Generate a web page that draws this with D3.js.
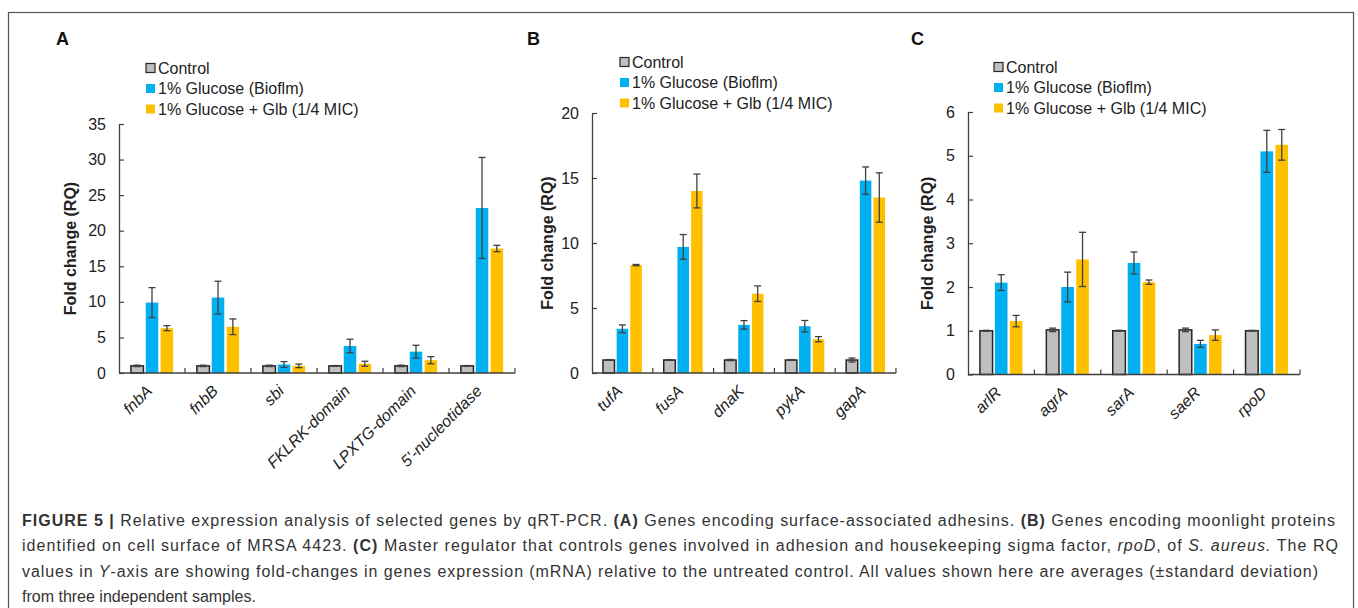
<!DOCTYPE html>
<html>
<head>
<meta charset="utf-8">
<script src="https://cdn.jsdelivr.net/npm/d3@7"></script>
<style>
  body { margin: 0; background: #fff; }
  svg text { font-family: "Liberation Sans", Arial, sans-serif; }
</style>
</head>
<body>
<svg id="fig" width="1358" height="608"></svg>
<script>
// series shared by the three panels
var seriesNames = ["Control", "1% Glucose (Bioflm)", "1% Glucose + Glb (1/4 MIC)"];
var seriesColors = ["#bfbfbf", "#00b0f0", "#ffc000"];

// panel A
var genesA = ["fnbA", "fnbB", "sbi", "FKLRK-domain", "LPXTG-domain", "5'-nucleotidase"];
var controlA = [1, 1, 1, 1, 1, 1];
var controlErrA = [0.1, 0.1, 0.1, 0.05, 0.1, 0.05];
var glucoseA = [9.9, 10.6, 1.2, 3.8, 3.0, 23.2];
var glucoseErrA = [2.1, 2.3, 0.4, 0.95, 0.9, 7.1];
var glbA = [6.3, 6.5, 1.0, 1.3, 1.8, 17.5];
var glbErrA = [0.35, 1.1, 0.25, 0.35, 0.5, 0.45];
var ticksA = [0, 5, 10, 15, 20, 25, 30, 35];

// panel B
var genesB = ["tufA", "fusA", "dnaK", "pykA", "gapA"];
var controlB = [1, 1, 1, 1, 1];
var controlErrB = [0.03, 0.03, 0.05, 0.03, 0.15];
var glucoseB = [3.4, 9.7, 3.7, 3.6, 14.8];
var glucoseErrB = [0.3, 0.95, 0.33, 0.44, 1.05];
var glbB = [8.3, 14.0, 6.1, 2.6, 13.5];
var glbErrB = [0.05, 1.3, 0.6, 0.2, 1.9];
var ticksB = [0, 5, 10, 15, 20];

// panel C
var genesC = ["arlR", "agrA", "sarA", "saeR", "rpoD"];
var controlC = [1.0, 1.02, 1.0, 1.02, 1.0];
var controlErrC = [0.01, 0.04, 0.01, 0.04, 0.01];
var glucoseC = [2.1, 2.0, 2.55, 0.7, 5.1];
var glucoseErrC = [0.18, 0.34, 0.25, 0.08, 0.48];
var glbC = [1.22, 2.63, 2.11, 0.9, 5.25];
var glbErrC = [0.13, 0.62, 0.05, 0.12, 0.35];
var ticksC = [0, 1, 2, 3, 4, 5, 6];

var svg = d3.select("#fig");

// figure frame (runs off the bottom of the picture)
svg.append("rect")
    .attr("x", 8.5).attr("y", 12.5)
    .attr("width", 1345).attr("height", 640)
    .attr("fill", "none").attr("stroke", "#555").attr("stroke-width", 1.2);

function drawPanel (o) {
    var g = svg.append("g");

    var x = d3.scaleBand().domain(o.genes).range([o.left, o.right]).paddingInner(0).paddingOuter(0);
    var step = x.bandwidth() * 0.225;
    var x1 = d3.scaleBand().domain(d3.range(3))
        .range([-1.5 * step, 1.5 * step])
        .paddingInner(0.155).paddingOuter(0.0775);
    var y = d3.scaleLinear().domain([0, o.max]).range([o.bottom, o.top]);

    var rows = o.genes.map(function (gene, i) {
        return [
            { gene: gene, s: 0, v: o.control[i], e: o.controlErr[i] },
            { gene: gene, s: 1, v: o.glucose[i], e: o.glucoseErr[i] },
            { gene: gene, s: 2, v: o.glb[i], e: o.glbErr[i] }
        ];
    });
    var flat = [].concat.apply([], rows);

    // bars
    g.selectAll("rect.bar")
        .data(flat)
        .enter()
        .append("rect")
        .attr("class", "bar")
        .attr("x", function (d) { return x(d.gene) + x.bandwidth() / 2 + x1(d.s); })
        .attr("y", function (d) { return y(d.v); })
        .attr("width", x1.bandwidth())
        .attr("height", function (d) { return y(0) - y(d.v); })
        .attr("fill", function (d) { return seriesColors[d.s]; })
        .attr("stroke", function (d) { return d.s === 0 ? "#262626" : "none"; })
        .attr("stroke-width", 1.5);

    // error bars
    var cap = 3.5;
    var eb = g.selectAll("g.err")
        .data(flat)
        .enter()
        .append("g")
        .attr("class", "err")
        .attr("stroke", "#404040")
        .attr("stroke-width", 1.3);
    function cx (d) { return x(d.gene) + x.bandwidth() / 2 + x1(d.s) + x1.bandwidth() / 2; }
    eb.append("line")
        .attr("x1", cx).attr("x2", cx)
        .attr("y1", function (d) { return y(d.v + d.e); })
        .attr("y2", function (d) { return y(d.v - d.e); });
    eb.append("line")
        .attr("x1", function (d) { return cx(d) - cap; })
        .attr("x2", function (d) { return cx(d) + cap; })
        .attr("y1", function (d) { return y(d.v + d.e); })
        .attr("y2", function (d) { return y(d.v + d.e); });
    eb.append("line")
        .attr("x1", function (d) { return cx(d) - cap; })
        .attr("x2", function (d) { return cx(d) + cap; })
        .attr("y1", function (d) { return y(d.v - d.e); })
        .attr("y2", function (d) { return y(d.v - d.e); });

    // y axis
    var yAxis = d3.axisLeft(y).tickValues(o.ticks).tickFormat(d3.format("d"))
        .tickSizeInner(-5).tickSizeOuter(0).tickPadding(13);
    var ya = g.append("g")
        .attr("transform", "translate(" + o.left + ",0)")
        .call(yAxis);
    ya.select(".domain").attr("stroke", "#404040").attr("stroke-width", 1.3);
    ya.selectAll(".tick line").attr("stroke", "#404040").attr("stroke-width", 1.2);
    ya.selectAll(".tick text")
        .attr("font-size", 16)
        .attr("fill", "#222")
        .style("font-family", "'Liberation Sans', Arial, sans-serif");

    // x axis: baseline with ticks between the categories
    g.append("line")
        .attr("x1", o.left).attr("x2", o.right)
        .attr("y1", y(0)).attr("y2", y(0))
        .attr("stroke", "#404040").attr("stroke-width", 1.3);
    g.selectAll("line.xtick")
        .data(o.genes)
        .enter()
        .append("line")
        .attr("class", "xtick")
        .attr("x1", function (d) { return x(d) + x.bandwidth(); })
        .attr("x2", function (d) { return x(d) + x.bandwidth(); })
        .attr("y1", y(0)).attr("y2", y(0) - 5)
        .attr("stroke", "#404040").attr("stroke-width", 1.2);

    g.selectAll("text.xlab")
        .data(o.genes)
        .enter()
        .append("text")
        .attr("class", "xlab")
        .attr("text-anchor", "end")
        .attr("font-size", 16)
        .attr("font-style", "italic")
        .attr("fill", "#222")
        .attr("transform", function (d) {
            return "translate(" + (x(d) + x.bandwidth() / 2 + 1) + "," + (y(0) + 19) + ") rotate(-45)";
        })
        .text(function (d) { return d; });

    // axis title
    g.append("text")
        .attr("transform", "translate(" + o.titleX + "," + ((o.top + o.bottom) / 2) + ") rotate(-90)")
        .attr("text-anchor", "middle")
        .attr("dominant-baseline", "central")
        .attr("font-size", 16)
        .attr("font-weight", "bold")
        .attr("fill", "#222")
        .text("Fold change (RQ)");

    // panel letter
    g.append("text")
        .attr("x", o.letterX).attr("y", 45)
        .attr("font-size", 18).attr("font-weight", "bold").attr("fill", "#111")
        .text(o.letter);

    // legend
    var lg = g.selectAll("g.leg")
        .data(seriesNames)
        .enter()
        .append("g")
        .attr("class", "leg")
        .attr("transform", function (d, i) { return "translate(" + o.legX + "," + (o.legY + i * 20.5) + ")"; });
    lg.append("rect")
        .attr("x", 0).attr("y", -4.5).attr("width", 9).attr("height", 9)
        .attr("fill", function (d, i) { return seriesColors[i]; })
        .attr("stroke", function (d, i) { return i === 0 ? "#262626" : "none"; })
        .attr("stroke-width", 1.2);
    lg.append("text")
        .attr("x", 12).attr("y", 0)
        .attr("dominant-baseline", "central")
        .attr("font-size", 16)
        .attr("fill", "#222")
        .text(function (d) { return d; });
}

drawPanel({
    letter: "A", letterX: 56, titleX: 70,
    genes: genesA, control: controlA, controlErr: controlErrA,
    glucose: glucoseA, glucoseErr: glucoseErrA, glb: glbA, glbErr: glbErrA,
    ticks: ticksA, max: 35,
    left: 119, right: 515, top: 124, bottom: 373,
    legX: 146, legY: 68
});

drawPanel({
    letter: "B", letterX: 527, titleX: 547,
    genes: genesB, control: controlB, controlErr: controlErrB,
    glucose: glucoseB, glucoseErr: glucoseErrB, glb: glbB, glbErr: glbErrB,
    ticks: ticksB, max: 20,
    left: 592, right: 896, top: 113, bottom: 373,
    legX: 620, legY: 62
});

drawPanel({
    letter: "C", letterX: 911, titleX: 927,
    genes: genesC, control: controlC, controlErr: controlErrC,
    glucose: glucoseC, glucoseErr: glucoseErrC, glb: glbC, glbErr: glbErrC,
    ticks: ticksC, max: 6,
    left: 968, right: 1300, top: 112, bottom: 374.5,
    legX: 994, legY: 67
});

// caption: first three lines are stretched to the frame width
var captionLines = [
    [["FIGURE 5 | ", "b"], ["Relative expression analysis of selected genes by qRT-PCR. ", ""], ["(A)", "b"], [" Genes encoding surface-associated adhesins. ", ""], ["(B)", "b"], [" Genes encoding moonlight proteins", ""]],
    [["identified on cell surface of MRSA 4423. ", ""], ["(C)", "b"], [" Master regulator that controls genes involved in adhesion and housekeeping sigma factor, ", ""], ["rpoD", "i"], [", of ", ""], ["S. aureus.", "i"], [" The RQ", ""]],
    [["values in ", ""], ["Y", "i"], ["-axis are showing fold-changes in genes expression (mRNA) relative to the untreated control. All values shown here are averages (\u00b1standard deviation)", ""]],
    [["from three independent samples.", ""]]
];
var captionWidths = [1313, 1316, 1296, null];

var capG = svg.append("g");
captionLines.forEach(function (line, i) {
    var t = capG.append("text")
        .attr("x", 22)
        .attr("y", 526 + i * 25.3)
        .attr("font-size", 16)
        .attr("fill", "#333");
    line.forEach(function (part) {
        t.append("tspan")
            .attr("font-weight", part[1] === "b" ? "bold" : null)
            .attr("font-style", part[1] === "i" ? "italic" : null)
            .text(part[0]);
    });
    if (captionWidths[i]) {
        t.attr("textLength", captionWidths[i]).attr("lengthAdjust", "spacing");
    }
});
</script>
</body>
</html>
